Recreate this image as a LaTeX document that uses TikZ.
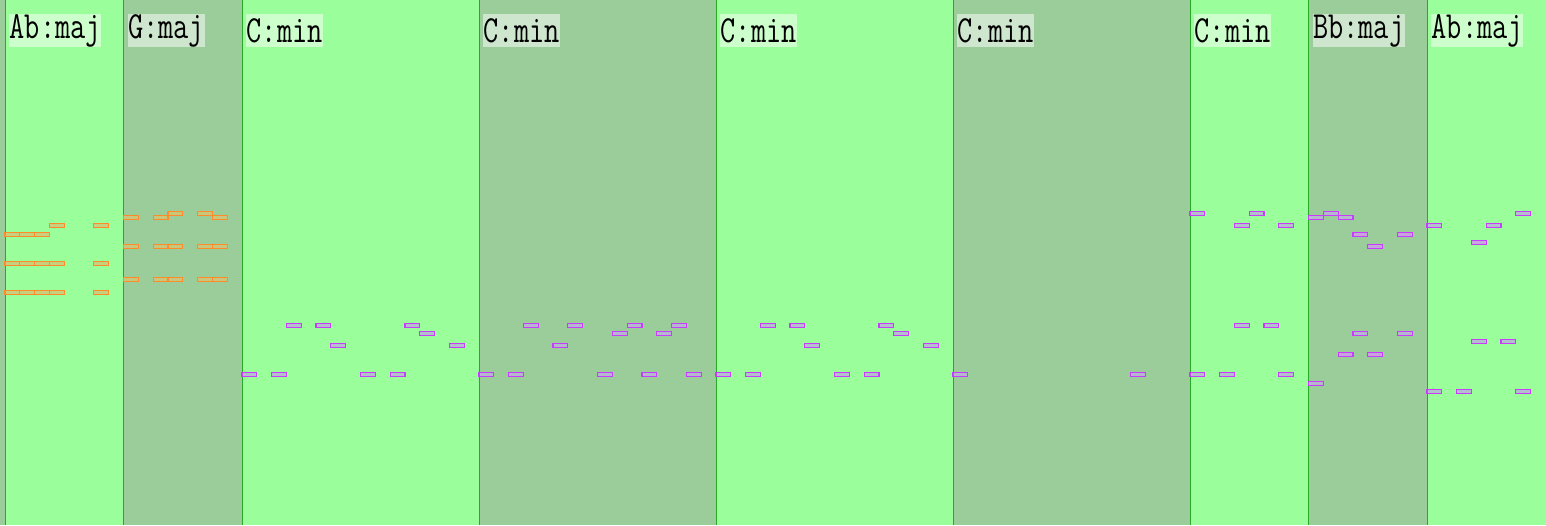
\documentclass[tikz,border=0pt]{standalone}
\usepackage{graphicx}
\definecolor{lightcol}{RGB}{154,255,154}
\definecolor{darkcol}{RGB}{155,205,155}
\definecolor{sepline}{RGB}{40,170,40}
\definecolor{orstroke}{RGB}{255,140,40}
\definecolor{orfill}{RGB}{212,195,118}
\definecolor{pustroke}{RGB}{200,60,255}
\definecolor{pufill}{RGB}{185,180,215}
\definecolor{pkfill}{RGB}{205,160,230}
\tikzset{
  onote/.style={draw=orstroke, line width=1.2pt, fill=orfill, fill opacity=0.8},
  pnote/.style={draw=pustroke, line width=1.2pt, fill=pufill, fill opacity=0.85},
  knote/.style={draw=pustroke, line width=1.2pt, fill=pkfill, fill opacity=0.9},
  chordlabel/.style={anchor=north west, minimum height=33pt, inner xsep=0.5pt, inner ysep=0pt,
     fill=white, fill opacity=0.5, text opacity=1,
     font=\ttfamily\fontsize{29.5}{30}\selectfont},
  sep/.style={draw=sepline, line width=1pt}
}
\newcommand\chlab[1]{\scalebox{1}[1.3]{#1}}
\begin{document}
\begin{tikzpicture}[x=1pt,y=-1pt]
\useasboundingbox (0,0) rectangle (1546,525);
\def\u{14.8125}
% backgrounds
\fill[darkcol] (0,0) rectangle (5,525);
\fill[lightcol] (5,0) rectangle (123.5,525);
\fill[darkcol] (123.5,0) rectangle (242,525);
\fill[lightcol] (242,0) rectangle (479,525);
\fill[darkcol] (479,0) rectangle (716,525);
\fill[lightcol] (716,0) rectangle (953,525);
\fill[darkcol] (953,0) rectangle (1190,525);
\fill[lightcol] (1190,0) rectangle (1308.5,525);
\fill[darkcol] (1308.5,0) rectangle (1427,525);
\fill[lightcol] (1427,0) rectangle (1546,525);
\foreach \c in {5,123.5,242,479,716,953,1190,1308.5,1427}
  \draw[sep] (\c,0) -- (\c,525);
% labels
\node[chordlabel] (l0) at (9,14) {\chlab{Ab:maj}};
\node[chordlabel] (l1) at (127.5,14) {\chlab{G:maj}};
\node[chordlabel] (l2) at (246,14) {\chlab{C:min}};
\node[chordlabel] (l3) at (483,14) {\chlab{C:min}};
\node[chordlabel] (l4) at (720,14) {\chlab{C:min}};
\node[chordlabel] (l5) at (957,14) {\chlab{C:min}};
\node[chordlabel] (l6) at (1194,14) {\chlab{C:min}};
\node[chordlabel] (l7) at (1312.5,14) {\chlab{Bb:maj}};
\node[chordlabel] (l8) at (1431,14) {\chlab{Ab:maj}};
% notes: column start, unit, top
\foreach \c/\k/\t in {
  5/3/223.3, 5/6/223.3,
  5/0/232.3, 5/1/232.3, 5/2/232.3,
  5/0/261.3, 5/1/261.3, 5/2/261.3, 5/3/261.3, 5/6/261.3,
  5/0/290.3, 5/1/290.3, 5/2/290.3, 5/3/290.3, 5/6/290.3,
  123.5/3/211.3, 123.5/5/211.3,
  123.5/0/215.3, 123.5/2/215.3, 123.5/6/215.3,
  123.5/0/244.3, 123.5/2/244.3, 123.5/3/244.3, 123.5/5/244.3, 123.5/6/244.3,
  123.5/0/277.3, 123.5/2/277.3, 123.5/3/277.3, 123.5/5/277.3, 123.5/6/277.3}
  \draw[onote] (\c+\k*\u,\t) rectangle ++(\u,4.3);
\foreach \c/\k/\t in {
  242/3/323.3, 242/5/323.3, 242/11/323.3, 242/12/331.3, 242/6/343.3, 242/14/343.3,
  242/0/372.3, 242/2/372.3, 242/8/372.3, 242/10/372.3,
  479/3/323.3, 479/6/323.3, 479/10/323.3, 479/13/323.3, 479/9/331.3, 479/12/331.3,
  479/5/343.3, 479/0/372.3, 479/2/372.3, 479/8/372.3, 479/11/372.3, 479/14/372.3,
  716/3/323.3, 716/5/323.3, 716/11/323.3, 716/12/331.3, 716/6/343.3, 716/14/343.3,
  716/0/372.3, 716/2/372.3, 716/8/372.3, 716/10/372.3,
  953/0/372.3, 953/12/372.3,
  1190/0/211.3, 1190/4/211.3, 1190/3/223.3, 1190/6/223.3, 1190/3/323.3, 1190/5/323.3,
  1190/0/372.3, 1190/2/372.3, 1190/6/372.3,
  1308.5/1/211.3, 1308.5/0/215.3, 1308.5/2/215.3, 1308.5/3/331.3, 1308.5/6/331.3,
  1308.5/0/381.3,
  1427/6/211.3, 1427/0/223.3, 1427/4/223.3, 1427/3/339.3, 1427/5/339.3,
  1427/0/389.3, 1427/2/389.3, 1427/6/389.3}
  \draw[pnote] (\c+\k*\u,\t) rectangle ++(\u,4.3);
\foreach \c/\k/\t in {
  1308.5/3/232.3, 1308.5/6/232.3, 1308.5/4/244.3, 1308.5/2/352.3, 1308.5/4/352.3,
  1427/3/240.3}
  \draw[knote] (\c+\k*\u,\t) rectangle ++(\u,4.3);
\end{tikzpicture}
\end{document}
